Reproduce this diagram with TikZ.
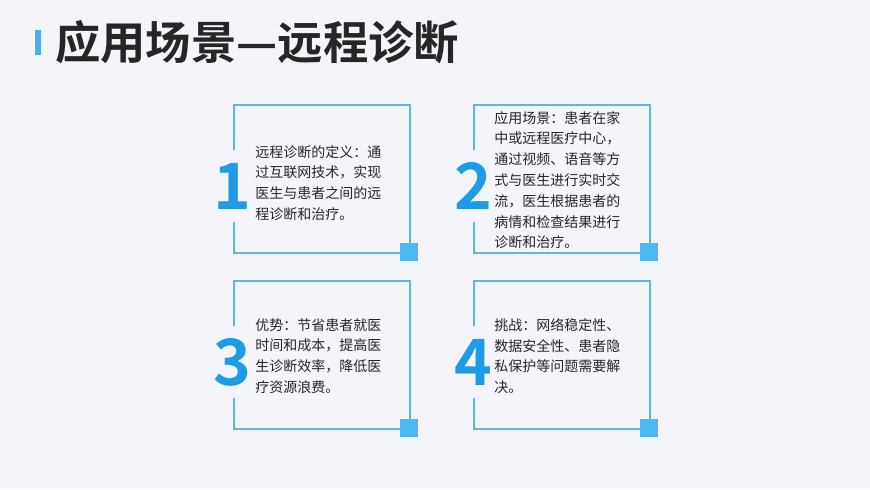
\documentclass[tikz,border=0pt]{standalone}
\usepackage{fontspec}
\newfontfamily\cjk{Noto Sans CJK SC}
\newfontfamily\cjkb{Noto Sans CJK SC Bold}
\definecolor{bg}{HTML}{F3F5FA}
\definecolor{frame}{HTML}{5FB6E2}
\definecolor{num}{HTML}{1E9BE6}
\definecolor{sq}{HTML}{4DB9F2}
\begin{document}
\begin{tikzpicture}[x=0.75pt,y=-0.75pt,
  fr/.style={draw=frame,line width=1pt},
  body/.style={anchor=north west,align=left,inner sep=0pt,font=\cjk\fontsize{10.5pt}{15.6pt}\selectfont,text=black!85},
  bignum/.style={font=\cjkb\fontsize{48pt}{48pt}\selectfont,text=num,inner sep=0pt}]
\fill[bg] (0,0) rectangle (870,489);
\useasboundingbox (0,0) rectangle (870,489);
\fill[num!80] (35,30) rectangle (41,55);
\node[anchor=west,inner sep=0pt,font=\cjkb\fontsize{34pt}{36pt}\selectfont,text=black!85] (title) at (55,42) {应用场景—远程诊断};
% boxes
\foreach \x/\y/\n in {234/105/a,474/105/b,234/281/c,474/281/d}{
  \draw[fr] (\x,\y+45) -- (\x,\y) -- (\x+176,\y) -- (\x+176,\y+148) -- (\x,\y+148) -- (\x,\y+117);
  \fill[sq] (\x+166,\y+138) rectangle (\x+184,\y+156);
}
\node[bignum] (n1) at (232,186) {1};
\node[bignum] (n2) at (473,186) {2};
\node[bignum] (n3) at (232,362) {3};
\node[bignum] (n4) at (473,362) {4};
\node[body] (t1) at (255,145) {远程诊断的定义：通\\过互联网技术，实现\\医生与患者之间的远\\程诊断和治疗。};
\node[body] (t2) at (494,111) {应用场景：患者在家\\中或远程医疗中心，\\通过视频、语音等方\\式与医生进行实时交\\流，医生根据患者的\\病情和检查结果进行\\诊断和治疗。};
\node[body] (t3) at (255,318) {优势：节省患者就医\\时间和成本，提高医\\生诊断效率，降低医\\疗资源浪费。};
\node[body] (t4) at (494,318) {挑战：网络稳定性、\\数据安全性、患者隐\\私保护等问题需要解\\决。};
\end{tikzpicture}
\end{document}
